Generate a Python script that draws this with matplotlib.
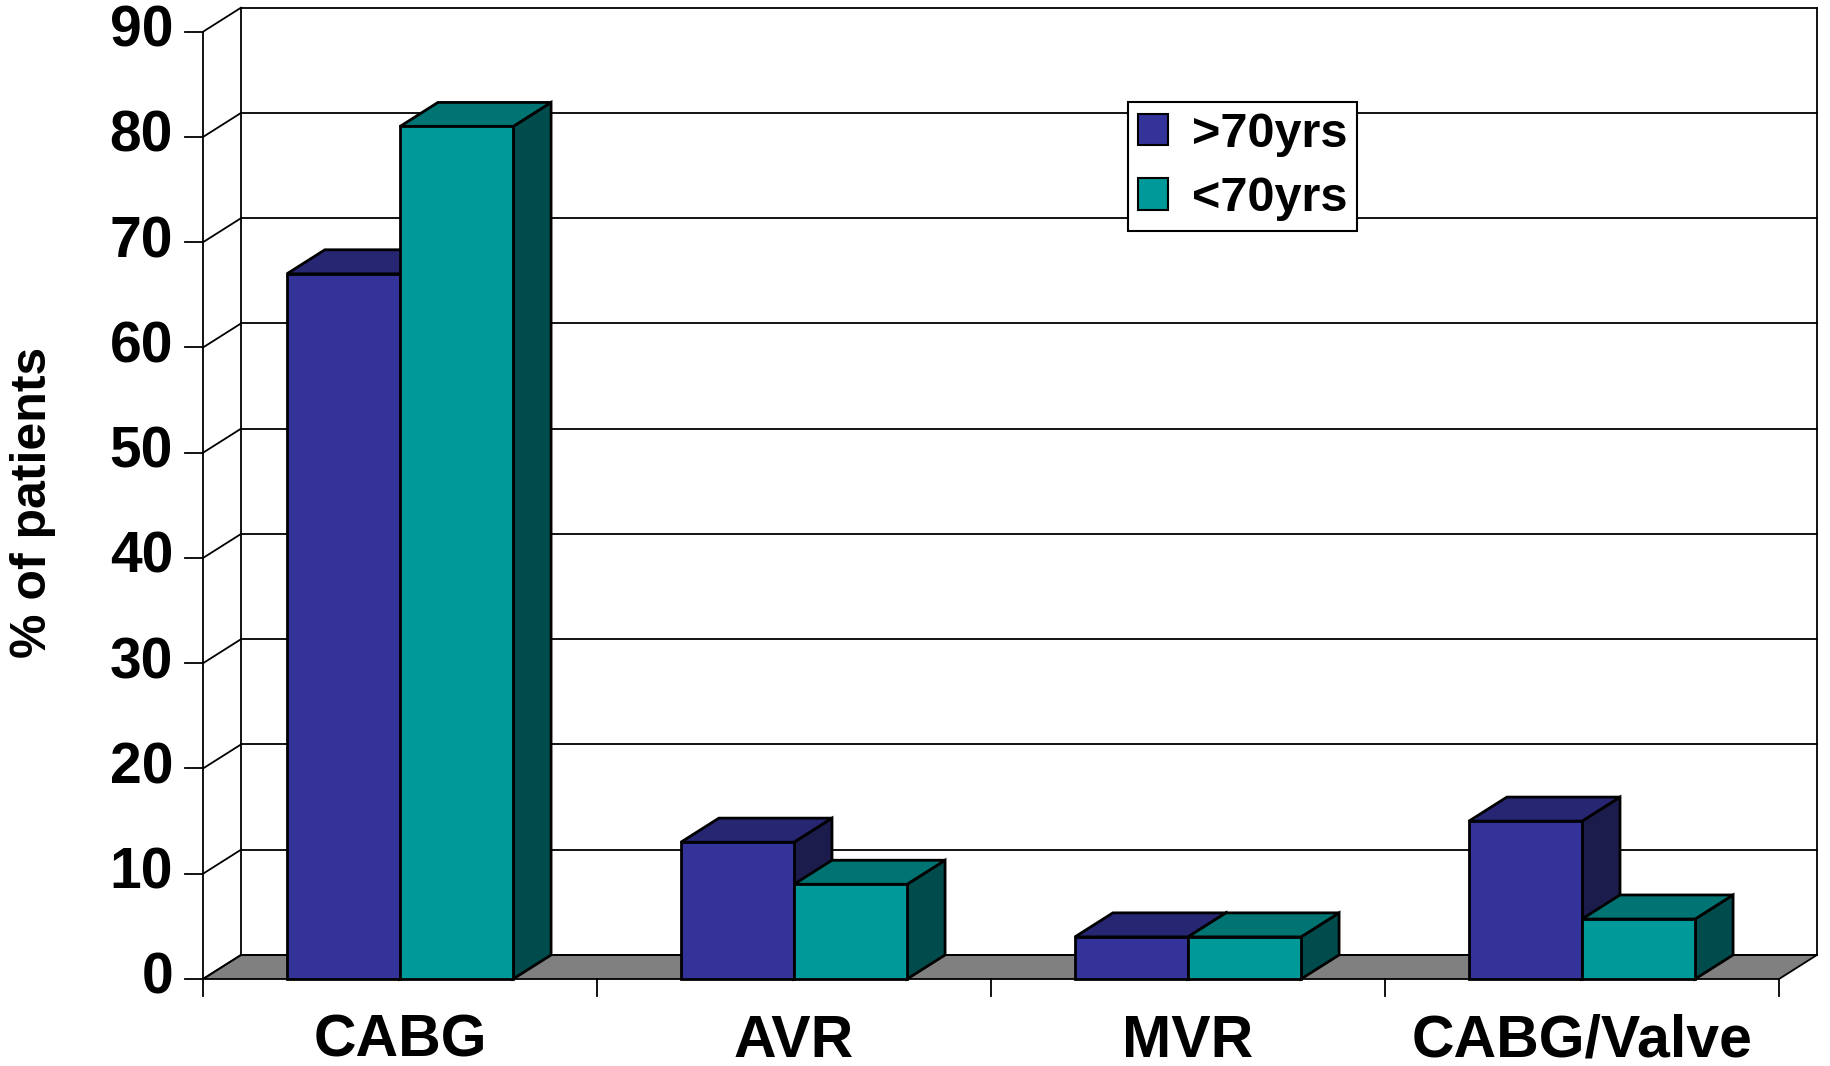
import matplotlib
matplotlib.use("Agg")
import matplotlib.pyplot as plt
from matplotlib.patches import Polygon, Patch

# ---- data
categories = ['CABG', 'AVR', 'MVR', 'CABG/Valve']
over70 = [67, 13, 4, 15]
under70 = [81, 9, 4, 5.7]
series_labels = ['>70yrs', '<70yrs']
yticks = list(range(0, 100, 10))

# ---- colours (front, top, side)
purple = ('#333399', '#262673', '#1c1c4c')
teal = ('#009999', '#007373', '#004c4c')
floor_col = '#808080'

plt.rcParams['font.family'] = ['Liberation Sans', 'DejaVu Sans']
plt.rcParams['font.weight'] = 'bold'

fig = plt.figure(figsize=(18.3, 10.66), dpi=100)
W, H = 1830., 1066.
x_front0, x_back_right = 203., 1817.
y_zero, y_back_top = 979., 7.7
ax = fig.add_axes([x_front0 / W, (H - y_zero) / H,
                   (x_back_right - x_front0) / W, (y_zero - y_back_top) / H])

n = len(categories)
dx = 38 / 394.25      # depth offset, category units
dy = 24 / 10.51       # depth offset, value units
ymax = 90
ax.set_xlim(0, n + dx)
ax.set_ylim(0, ymax + dy)
ax.axis('off')

lw_grid = 1.3
lw_bar = 2.0

# back wall + floor
ax.add_patch(Polygon([(0, 0), (n, 0), (n + dx, dy), (dx, dy)],
                     closed=True, fc=floor_col, ec='black', lw=lw_grid, clip_on=False, zorder=1))
for v in yticks:
    ax.plot([dx, n + dx], [v + dy, v + dy], color='black', lw=lw_grid, zorder=1, clip_on=False)
    ax.plot([0, dx], [v, v + dy], color='black', lw=lw_grid, zorder=1, clip_on=False)
ax.plot([dx, dx], [dy, ymax + dy], color='black', lw=lw_grid, zorder=1, clip_on=False)
ax.plot([n + dx, n + dx], [dy, ymax + dy], color='black', lw=lw_grid, zorder=1, clip_on=False)
ax.plot([0, 0], [0, ymax], color='black', lw=lw_grid, zorder=1, clip_on=False)

# y ticks and labels
tick_x = 18 / 394.25
for v in yticks:
    ax.plot([-tick_x, 0], [v, v], color='black', lw=lw_grid, clip_on=False)
    ax.text(-0.076, v, str(v), ha='right', va='center', fontsize=41, fontweight='bold')

# x ticks and labels
for i in range(n + 1):
    ax.plot([i, i], [0, -1.6], color='black', lw=lw_grid, clip_on=False)
for i, c in enumerate(categories):
    ax.text(i + 0.5, -5.9, c, ha='center', va='center', fontsize=42.5, fontweight='bold')

ax.text(-0.431, 45.3, '% of patients', rotation=90, ha='center', va='center',
        fontsize=36, fontweight='bold')


def bar3d(x0, w, h, cols, z):
    front, top, side = cols
    kw = dict(closed=True, ec='black', lw=lw_bar, joinstyle='miter', clip_on=False, zorder=z)
    ax.add_patch(Polygon([(x0 + w, 0), (x0 + w + dx, dy), (x0 + w + dx, h + dy), (x0 + w, h)], fc=side, **kw))
    ax.add_patch(Polygon([(x0, h), (x0 + w, h), (x0 + w + dx, h + dy), (x0 + dx, h + dy)], fc=top, **kw))
    ax.add_patch(Polygon([(x0, 0), (x0 + w, 0), (x0 + w, h), (x0, h)], fc=front, **kw))


bw = 0.287
for i in range(n):
    c = i + 0.5
    bar3d(c - bw, bw, over70[i], purple, 3 + 2 * i)
    bar3d(c, bw, under70[i], teal, 4 + 2 * i)

# legend
handles = [Patch(fc=purple[0], ec='black', lw=1.5), Patch(fc=teal[0], ec='black', lw=1.5)]
leg = fig.legend(handles, series_labels, loc='upper left',
                 bbox_to_anchor=(1128 / W, 1 - 102 / H), bbox_transform=fig.transFigure,
                 prop={'family': 'Liberation Sans', 'weight': 'bold', 'size': 35},
                 frameon=True, fancybox=False, edgecolor='black', framealpha=1,
                 handlelength=0.62, handleheight=0.62, handletextpad=0.5,
                 borderpad=0.2, labelspacing=0.4, borderaxespad=0)
leg.get_frame().set_linewidth(1.5)

fig.savefig('out.png', dpi=100, facecolor='white')
